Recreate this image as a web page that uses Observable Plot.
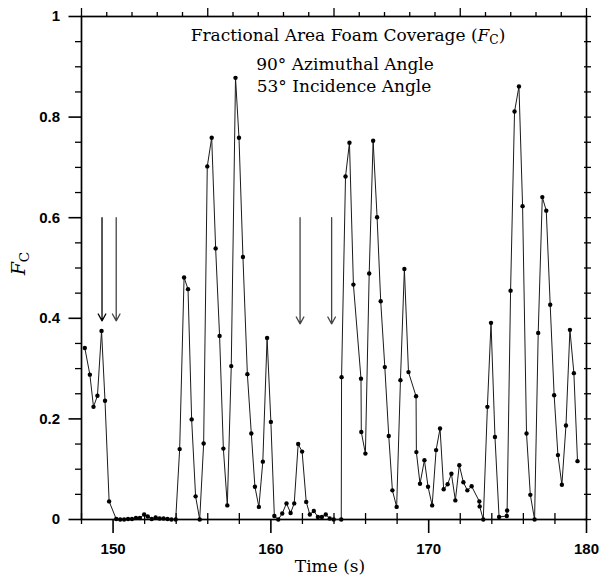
<!DOCTYPE html>
<html>
<head>
<meta charset="utf-8">
<script src="https://cdn.jsdelivr.net/npm/d3@7"></script>
<script src="https://cdn.jsdelivr.net/npm/@observablehq/plot@0.6"></script>
<style>
  html, body { margin: 0; padding: 0; background: #fff; }
  #chart svg { display: block; background: #fff; }
</style>
</head>
<body>
<div id="chart"></div>
<script>
// ---- data ----
const times = [
  148.21, 148.53, 148.76, 149.01, 149.27, 149.49, 149.75,
  150.2, 150.45, 150.7, 150.95, 151.2, 151.45, 151.7, 151.97, 152.2, 152.45, 152.7, 152.95, 153.2, 153.45, 153.7, 153.97,
  154.22, 154.5, 154.75, 154.98, 155.23, 155.49, 155.74, 155.97, 156.25, 156.5, 156.75, 156.99, 157.24, 157.49,
  157.76, 157.98, 158.23, 158.51, 158.76, 158.99, 159.24, 159.49, 159.76, 160.0, 160.22, 160.47, 160.72, 160.99,
  161.25, 161.48, 161.73, 161.98, 162.24, 162.47, 162.72, 162.98, 163.23, 163.48, 163.73, 163.98,
  164.46, 164.48, 164.73, 164.98, 165.23, 165.71, 165.73, 165.99, 166.23, 166.48, 166.73, 166.96, 167.22, 167.47,
  167.7, 167.97, 168.21, 168.46, 168.72, 169.2, 169.22, 169.45, 169.73, 169.96, 170.22, 170.47, 170.72, 170.95,
  171.2, 171.44, 171.69, 171.94, 172.2, 172.45, 172.72, 173.21, 173.23, 173.46, 173.72, 173.95, 174.2, 174.46,
  174.95, 174.97, 175.19, 175.44, 175.72, 175.95, 176.2, 176.44, 176.71, 176.94, 177.2, 177.45, 177.7, 177.95,
  178.19, 178.44, 178.7, 178.95, 179.2, 179.43
];
const fc = [
  0.341, 0.288, 0.224, 0.246, 0.375, 0.236, 0.036,
  0.001, 0.0, 0.0, 0.001, 0.001, 0.003, 0.003, 0.010, 0.006, 0.001, 0.004, 0.002, 0.002, 0.001, 0.0, 0.0,
  0.140, 0.481, 0.458, 0.199, 0.046, 0.0, 0.151, 0.702, 0.759, 0.539, 0.365, 0.141, 0.028, 0.305,
  0.878, 0.759, 0.522, 0.289, 0.171, 0.065, 0.025, 0.115, 0.361, 0.194, 0.007, 0.0, 0.012, 0.032,
  0.013, 0.032, 0.150, 0.135, 0.035, 0.010, 0.017, 0.005, 0.005, 0.010, 0.002, 0.0,
  0.0, 0.283, 0.682, 0.749, 0.467, 0.280, 0.174, 0.131, 0.489, 0.753, 0.601, 0.434, 0.303, 0.166,
  0.058, 0.025, 0.277, 0.498, 0.293, 0.245, 0.134, 0.071, 0.118, 0.065, 0.028, 0.138, 0.181, 0.060,
  0.070, 0.091, 0.038, 0.108, 0.074, 0.058, 0.066, 0.036, 0.026, 0.0, 0.224, 0.391, 0.164, 0.005,
  0.007, 0.018, 0.455, 0.811, 0.861, 0.623, 0.171, 0.049, 0.0, 0.371, 0.641, 0.614, 0.427, 0.247,
  0.128, 0.069, 0.187, 0.377, 0.291, 0.116
];

// arrows marking events
const arrowTime = [149.3, 150.2, 161.85, 163.85];
const arrowFrom = [0.60, 0.60, 0.60, 0.60];
const arrowTo   = [0.395, 0.395, 0.389, 0.389];

// axis ticks
const xTickLabels = [150, 160, 170, 180];
const xMinorTicks = [148, 152, 154, 156, 158, 162, 164, 166, 168, 172, 174, 176, 178];
const xTopMajor = [148, 156, 164, 172, 180];
const xTopMinor = [149.6, 151.2, 152.8, 154.4, 157.6, 159.2, 160.8, 162.4, 165.6, 167.2, 168.8, 170.4, 173.6, 175.2, 176.8, 178.4];
const yTickLabels = [0, 0.2, 0.4, 0.6, 0.8, 1];
const yMinorTicks = [0.05, 0.1, 0.15, 0.25, 0.3, 0.35, 0.45, 0.5, 0.55, 0.65, 0.7, 0.75, 0.85, 0.9, 0.95];
const yRightTicks = [0, 0.05, 0.1, 0.15, 0.2, 0.25, 0.3, 0.35, 0.4, 0.45, 0.5, 0.55, 0.6, 0.65, 0.7, 0.75, 0.8, 0.85, 0.9, 0.95, 1];

const titleLines = ["Fractional Area Foam Coverage (FC)", "90° Azimuthal Angle", "53° Incidence Angle"];
const xLabel = "Time (s)";
const yLabel = "FC";

// ---- build ----
const data = times.map((t, i) => ({t, fc: fc[i]}));
const arrows = arrowTime.map((t, i) => ({t, from: arrowFrom[i], to: arrowTo[i], idx: i}));

const W = 600, H = 584;
const mt = 16, mr = 14, mb = 65, ml = 81;
const plotW = W - ml - mr, plotH = H - mt - mb;
const serif = "'DejaVu Serif', 'Liberation Serif', serif";
const sans = "'Liberation Sans', Arial, sans-serif";
const tfs = 17;
const yfs = 19;

const chart = Plot.plot({
  width: W, height: H,
  marginTop: mt, marginRight: mr, marginBottom: mb, marginLeft: ml,
  style: {background: "#fff", color: "#000"},
  x: {domain: [148, 180], axis: null},
  y: {domain: [0, 1], axis: null},
  marks: [
    // minor / secondary ticks
    Plot.tickX(xMinorTicks, {x: d => d, insetTop: plotH - 6, insetBottom: -5, stroke: "#000", strokeWidth: 1.3}),
    Plot.tickX(xTopMinor, {x: d => d, insetTop: -4, insetBottom: plotH, stroke: "#000", strokeWidth: 1.3}),
    Plot.tickX(xTopMajor, {x: d => d, insetTop: -8, insetBottom: plotH, stroke: "#000", strokeWidth: 1.3}),
    Plot.tickY(yMinorTicks, {y: d => d, insetLeft: -6, insetRight: plotW - 1, stroke: "#000", strokeWidth: 1.3}),
    Plot.tickY(yRightTicks, {y: d => d, insetLeft: plotW - 2, insetRight: -5, stroke: "#000", strokeWidth: 1.3}),
    // labelled axes
    Plot.axisX(xTickLabels, {anchor: "bottom", tickSize: 14, tickPadding: 10, label: null,
      tickFormat: d => String(d), fontSize: 15, fontWeight: "bold", fontFamily: sans, strokeWidth: 1.6}),
    Plot.axisY(yTickLabels, {anchor: "left", tickSize: 12.5, tickPadding: 9, label: null,
      tickFormat: d => String(d), fontSize: 15, fontWeight: "bold", fontFamily: sans, strokeWidth: 1.6}),
    Plot.frame({stroke: "#000", strokeWidth: 1.7}),
    // data
    Plot.line(data, {x: "t", y: "fc", stroke: "#1a1a1a", strokeWidth: 1}),
    Plot.dot(data, {x: "t", y: "fc", r: 2.2, fill: "#000", stroke: "none"}),
    Plot.arrow(arrows, {x1: "t", x2: "t", y1: "from", y2: "to", headLength: 9, headAngle: 58,
      stroke: d => (d.idx === 0 ? "#000" : "#444"), strokeWidth: 1.3}),
    // titles
    Plot.text([titleLines[0]], {text: d => d, frameAnchor: "top", dx: 14, dy: 12, fontSize: tfs, fontFamily: serif, fill: "#000"}),
    Plot.text([titleLines[1]], {text: d => d, frameAnchor: "top", dx: 11, dy: 41, fontSize: tfs, fontFamily: serif, fill: "#000"}),
    Plot.text([titleLines[2]], {text: d => d, frameAnchor: "top", dx: 10, dy: 63, fontSize: tfs, fontFamily: serif, fill: "#000"}),
    Plot.text([xLabel], {text: d => d, frameAnchor: "bottom", dx: -4, dy: 52, fontSize: tfs, fontFamily: serif, fill: "#000"})
  ]
});

document.getElementById("chart").appendChild(chart);

// rich text: italic F with subscript C
function fillFC(t, prefix, suffix, fs) {
  t.text(null);
  if (prefix) t.append("tspan").text(prefix);
  t.append("tspan").attr("font-style", "italic").text("F");
  t.append("tspan").attr("font-size", (fs * 0.72) + "px").attr("dy", (fs * 0.22) + "px").text("C");
  if (suffix) t.append("tspan").attr("dy", (-fs * 0.22) + "px").text(suffix);
  return t;
}
const titleText = d3.select(chart).selectAll("text").filter(function() { return this.textContent === titleLines[0]; });
if (!titleText.empty()) fillFC(titleText, "Fractional Area Foam Coverage (", ")", tfs);

// y-axis label, rotated to read bottom-to-top, centred on the frame's left side
const ylX = ml - 62, ylY = mt + plotH / 2 - 4;
const ylText = d3.select(chart).append("g").attr("aria-label", "y-axis label")
  .attr("transform", `translate(${ylX},${ylY}) rotate(-90)`)
  .append("text")
  .attr("text-anchor", "middle")
  .attr("dy", "0.32em")
  .attr("font-family", serif)
  .attr("font-size", yfs)
  .attr("fill", "#000");
fillFC(ylText, "", "", yfs);
</script>
</body>
</html>
